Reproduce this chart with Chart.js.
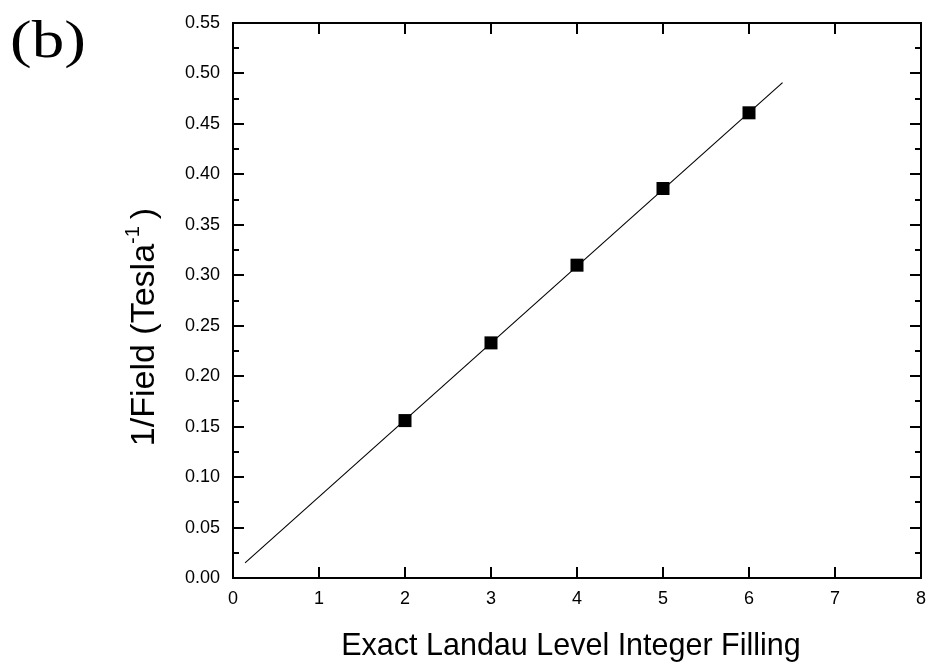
<!DOCTYPE html>
<html>
<head>
<meta charset="utf-8">
<script src="https://cdn.jsdelivr.net/npm/chart.js@4.4.1/dist/chart.umd.min.js"></script>
<style>
html,body{margin:0;padding:0;background:#fff;}
canvas{display:block;}
</style>
</head>
<body>
<canvas id="c" width="928" height="665"></canvas>
<script>
// ---- data ----
const fillingX = [2, 3, 4, 5, 6];
const inverseField = [0.156, 0.233, 0.310, 0.386, 0.461];
const fitX = [0.14, 6.39];
const fitY = [0.015, 0.491];
const xTicks = [0, 1, 2, 3, 4, 5, 6, 7, 8];
const yTicks = [0.00, 0.05, 0.10, 0.15, 0.20, 0.25, 0.30, 0.35, 0.40, 0.45, 0.50, 0.55];
const yMinorStep = 0.025;

const FONT = "'Liberation Sans', Arial, Helvetica, sans-serif";

const decor = {
  id: 'decor',
  afterDraw(chart) {
    const ctx = chart.ctx;
    const a = chart.chartArea;
    const xs = chart.scales.x, ys = chart.scales.y;
    ctx.save();
    ctx.strokeStyle = '#000';
    ctx.lineWidth = 2;
    // ticks
    ctx.beginPath();
    const nMinor = Math.round((yTicks[yTicks.length-1] - yTicks[0]) / yMinorStep);
    for (let i = 0; i <= nMinor; i++) {
      const v = yTicks[0] + i * yMinorStep;
      const py = Math.round(ys.getPixelForValue(v));
      const len = (i % 2 === 0) ? 11 : 6;
      ctx.moveTo(a.left, py); ctx.lineTo(a.left + len, py);
      ctx.moveTo(a.right, py); ctx.lineTo(a.right - len, py);
    }
    xTicks.forEach(v => {
      const px = Math.round(xs.getPixelForValue(v));
      ctx.moveTo(px, a.bottom); ctx.lineTo(px, a.bottom - 11);
      ctx.moveTo(px, a.top); ctx.lineTo(px, a.top + 11);
    });
    ctx.stroke();
    // frame
    ctx.strokeRect(a.left, a.top, a.right - a.left, a.bottom - a.top);

    ctx.fillStyle = '#000';
    // x title
    ctx.font = '30.5px ' + FONT;
    ctx.textAlign = 'center';
    ctx.textBaseline = 'alphabetic';
    ctx.fillText('Exact Landau Level Integer Filling', 571, 655);

    // y title with superscript
    ctx.save();
    ctx.translate(154, 327);
    ctx.rotate(-Math.PI / 2);
    const main = '1/Field (Tesla', sup = '-1', end = ')';
    ctx.font = '34px ' + FONT;
    const wMain = ctx.measureText(main).width;
    const wEnd = ctx.measureText(end).width;
    ctx.font = '20px ' + FONT;
    const wSup = ctx.measureText(sup).width;
    const total = wMain + wSup + wEnd + 7;
    let x0 = -total / 2;
    ctx.textAlign = 'left';
    ctx.font = '34px ' + FONT;
    ctx.fillText(main, x0, 0);
    x0 += wMain;
    ctx.font = '20px ' + FONT;
    ctx.fillText(sup, x0, -15);
    x0 += wSup + 7;
    ctx.font = '34px ' + FONT;
    ctx.fillText(end, x0, 0);
    ctx.restore();

    // panel label
    ctx.save();
    ctx.translate(10, 57);
    ctx.scale(1.25, 1);
    ctx.font = "52px 'Liberation Serif', 'Times New Roman', serif";
    ctx.textAlign = 'left';
    ctx.fillText('(b)', 0, 0);
    ctx.restore();
    ctx.restore();
  }
};

new Chart(document.getElementById('c'), {
  type: 'scatter',
  data: {
    datasets: [
      {
        label: 'fit',
        data: fitX.map((x, i) => ({x, y: fitY[i]})),
        showLine: true,
        borderColor: '#000',
        borderWidth: 1.1,
        pointRadius: 0,
        fill: false
      },
      {
        label: 'data',
        data: fillingX.map((x, i) => ({x, y: inverseField[i]})),
        pointStyle: 'rect',
        pointRadius: 9.2,
        pointBackgroundColor: '#000',
        pointBorderColor: '#000',
        pointBorderWidth: 0,
        showLine: false
      }
    ]
  },
  options: {
    responsive: false,
    animation: false,
    devicePixelRatio: 1,
    layout: { autoPadding: false, padding: { top: 23, right: 7, left: 0, bottom: 0 } },
    plugins: { legend: { display: false }, tooltip: { enabled: false } },
    scales: {
      x: {
        type: 'linear', min: 0, max: 8,
        grid: { display: false, drawTicks: false },
        border: { display: false },
        ticks: {
          stepSize: 1, color: '#000', padding: 10,
          font: { size: 18, family: FONT },
          maxRotation: 0, autoSkip: false
        },
        afterFit(s) { s.height = 87; s.paddingLeft = 0; s.paddingRight = 0; }
      },
      y: {
        type: 'linear', min: 0, max: 0.55,
        grid: { display: false, drawTicks: false },
        border: { display: false },
        ticks: {
          stepSize: 0.05, color: '#000', padding: 13,
          font: { size: 18, family: FONT },
          autoSkip: false,
          callback: v => Number(v).toFixed(2)
        },
        afterFit(s) { s.width = 233; s.paddingTop = 0; s.paddingBottom = 0; }
      }
    }
  },
  plugins: [decor]
});
</script>
</body>
</html>
